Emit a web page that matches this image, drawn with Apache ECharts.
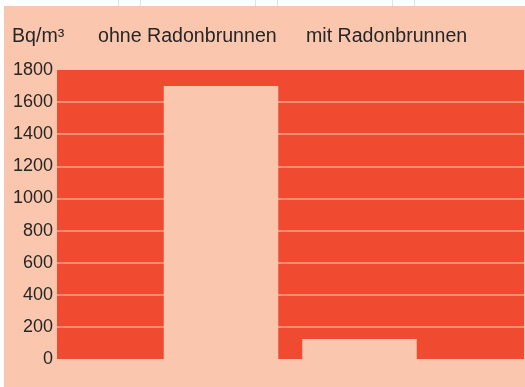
<!DOCTYPE html>
<html>
<head>
<meta charset="utf-8">
<script src="https://cdn.jsdelivr.net/npm/echarts@6/dist/echarts.min.js"></script>
<style>
  html, body { margin: 0; padding: 0; background: #ffffff; }
  #page { position: relative; width: 525px; height: 387px; overflow: hidden; background: #ffffff; }
  #chart { position: absolute; left: 4px; top: 6px; width: 521px; height: 381px; }
  .rule { position: absolute; top: 0; width: 1px; height: 6px; background: #e2e2e2; }
</style>
</head>
<body>
<div id="page">
  <div class="rule" style="left:118px"></div>
  <div class="rule" style="left:140px"></div>
  <div class="rule" style="left:255px"></div>
  <div class="rule" style="left:277px"></div>
  <div class="rule" style="left:392px"></div>
  <div class="rule" style="left:414px"></div>
  <div id="chart"></div>
</div>
<script>
// Radon concentration in Bq/m³, with and without a radon fountain
const unitLabel = 'Bq/m³';
const categories = ['ohne Radonbrunnen', 'mit Radonbrunnen'];
const radonValues = [1700, 125];
const yMin = 0;
const yMax = 1800;
const yStep = 200;

const PEACH = '#fac7ae';
const RED = '#f04a30';
const GRID_LINE = '#f8a58b';
const INK = '#262626';
const FONT = '"Liberation Sans", Arial, sans-serif';

const chart = echarts.init(document.getElementById('chart'), null, { renderer: 'canvas' });

const headerStyle = { fontSize: 19.6, fontWeight: 'normal', color: INK, fontFamily: FONT };

chart.setOption({
  backgroundColor: PEACH,
  animation: false,
  title: [
    { text: unitLabel, left: 8, top: 20.5, padding: 0, textStyle: headerStyle },
    { text: categories[0], left: 94, top: 20.5, padding: 0, textStyle: headerStyle },
    { text: categories[1], left: 302, top: 20.5, padding: 0, textStyle: headerStyle }
  ],
  grid: [
    // red panel with the value scale
    { left: 53, right: 1, top: 64, bottom: 28, show: true, backgroundColor: RED, borderWidth: 0, containLabel: false },
    // band for the two bars
    { left: 147.75, right: 96.25, top: 64, bottom: 28, containLabel: false }
  ],
  xAxis: [
    { gridIndex: 0, type: 'category', data: [''], show: false },
    { gridIndex: 1, type: 'category', data: categories, show: false }
  ],
  yAxis: [
    {
      gridIndex: 0, type: 'value', min: yMin, max: yMax, interval: yStep,
      axisLine: { show: false }, axisTick: { show: false },
      axisLabel: { show: true, margin: 4, fontSize: 18, color: INK, fontFamily: FONT, formatter: (v) => String(v) },
      splitLine: { show: true, showMinLine: false, showMaxLine: false, lineStyle: { color: GRID_LINE, width: 1.5 } }
    },
    {
      gridIndex: 1, type: 'value', min: yMin, max: yMax, interval: yStep,
      show: false, splitLine: { show: false }
    }
  ],
  series: [
    {
      type: 'bar',
      xAxisIndex: 1,
      yAxisIndex: 1,
      data: radonValues,
      barWidth: 114.5,
      itemStyle: { color: PEACH },
      z: 3
    }
  ]
});
</script>
</body>
</html>
